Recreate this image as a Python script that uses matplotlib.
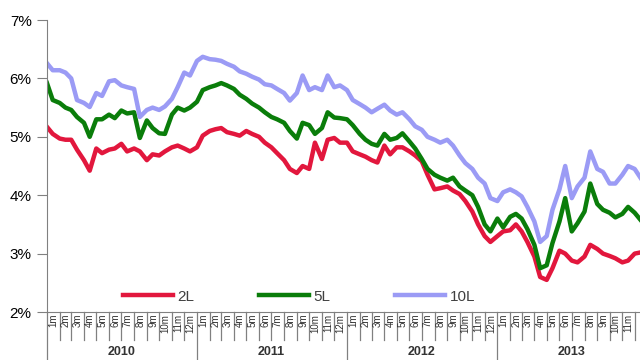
import matplotlib
matplotlib.use("Agg")
import matplotlib.pyplot as plt
import matplotlib.dates as mdates
import matplotlib.transforms as mtransforms
import pandas as pd

plt.rcParams["font.family"] = ["Liberation Sans", "DejaVu Sans"]

# semi-monthly observations, Jan 2010 - Dec 2013
dates = pd.date_range("2010-01-01", periods=96, freq="SMS")

rate_2L = [5.17, 5.05, 4.97, 4.95, 4.95, 4.78, 4.60, 4.42, 4.80, 4.72, 4.78, 4.80,
           4.88, 4.75, 4.80, 4.75, 4.60, 4.70, 4.68, 4.75, 4.82, 4.85, 4.80, 4.75,
           4.82, 5.02, 5.10, 5.13, 5.15, 5.08, 5.05, 5.02, 5.10, 5.05, 5.00, 4.90,
           4.82, 4.72, 4.60, 4.45, 4.38, 4.50, 4.45, 4.90, 4.62, 4.95, 4.98, 4.90,
           4.90, 4.75, 4.70, 4.66, 4.60, 4.56, 4.85, 4.70, 4.82, 4.82, 4.75, 4.68,
           4.58, 4.35, 4.10, 4.12, 4.15, 4.08, 4.02, 3.90, 3.72, 3.50, 3.30, 3.20,
           3.30, 3.38, 3.40, 3.50, 3.38, 3.20, 2.95, 2.60, 2.55, 2.75, 3.05, 3.00,
           2.88, 2.85, 2.95, 3.15, 3.08, 3.00, 2.96, 2.92, 2.85, 2.88, 3.00, 3.02]

rate_5L = [5.92, 5.63, 5.58, 5.50, 5.46, 5.34, 5.24, 5.00, 5.30, 5.30, 5.38, 5.32,
           5.45, 5.40, 5.42, 4.98, 5.28, 5.15, 5.06, 5.05, 5.38, 5.50, 5.45, 5.50,
           5.60, 5.80, 5.85, 5.88, 5.92, 5.88, 5.82, 5.72, 5.65, 5.57, 5.50, 5.42,
           5.34, 5.30, 5.24, 5.10, 4.97, 5.24, 5.20, 5.05, 5.15, 5.42, 5.33, 5.32,
           5.30, 5.20, 5.05, 4.95, 4.88, 4.85, 5.05, 4.95, 4.98, 5.06, 4.92, 4.80,
           4.62, 4.45, 4.35, 4.30, 4.25, 4.30, 4.15, 4.08, 4.00, 3.80, 3.50, 3.38,
           3.60, 3.45, 3.63, 3.68, 3.60, 3.42, 3.15, 2.75, 2.80, 3.18, 3.55, 3.95,
           3.38, 3.52, 3.72, 4.20, 3.85, 3.75, 3.70, 3.62, 3.68, 3.80, 3.70, 3.58]

rate_10L = [6.26, 6.14, 6.14, 6.10, 6.00, 5.63, 5.58, 5.51, 5.75, 5.70, 5.95, 5.97,
            5.88, 5.85, 5.82, 5.34, 5.46, 5.50, 5.46, 5.52, 5.65, 5.85, 6.10, 6.05,
            6.30, 6.37, 6.33, 6.32, 6.30, 6.25, 6.20, 6.12, 6.08, 6.03, 5.98, 5.90,
            5.88, 5.82, 5.75, 5.62, 5.75, 6.05, 5.80, 5.85, 5.80, 6.05, 5.85, 5.88,
            5.80, 5.63, 5.56, 5.50, 5.42, 5.48, 5.55, 5.45, 5.38, 5.42, 5.30, 5.18,
            5.12, 5.00, 4.95, 4.90, 4.95, 4.85, 4.68, 4.55, 4.45, 4.30, 4.20, 3.95,
            3.90, 4.05, 4.10, 4.05, 3.98, 3.80, 3.55, 3.20, 3.30, 3.75, 4.10, 4.50,
            3.95, 4.15, 4.30, 4.75, 4.45, 4.40, 4.20, 4.20, 4.35, 4.50, 4.45, 4.30]

years = [2010, 2011, 2012, 2013]
series = [("2L", rate_2L, "#e2173d"), ("5L", rate_5L, "#0a7d0a"), ("10L", rate_10L, "#9b9bf5")]

fig = plt.figure(figsize=(6.4, 3.6), dpi=100)
ax = fig.add_axes([0.0734, 0.1333, 0.9266, 0.8111])

for name, vals, col in series:
    ax.plot(dates, vals, color=col, lw=3.2, label=name, solid_joinstyle="round")

ax.set_ylim(2, 7)
ax.set_yticks([2, 3, 4, 5, 6, 7])
ax.set_yticklabels([f"{v}%" for v in range(2, 8)], fontsize=11)
ax.set_xlim(pd.Timestamp("2010-01-01"), pd.Timestamp("2013-12-14"))
ax.set_xticks([])

for s in ["top", "right"]:
    ax.spines[s].set_visible(False)
for s in ["left", "bottom"]:
    ax.spines[s].set_color("#808080")
ax.tick_params(axis="y", direction="out", length=7, color="#808080", pad=4)

# month cells and year blocks below the axis
trans = mtransforms.blended_transform_factory(ax.transData, ax.transAxes)
month_starts = pd.date_range("2010-01-01", "2014-01-01", freq="MS")
for d in month_starts:
    x = mdates.date2num(d)
    bottom = -0.165 if d.month == 1 else -0.095
    ax.plot([x, x], [0, bottom], transform=trans, color="#808080", lw=0.9, clip_on=False)
for d in month_starts[:-1]:
    mid = mdates.date2num(d) + 15
    if mid > ax.get_xlim()[1]:
        continue
    ax.text(mid, -0.006, f"{d.month}m", transform=trans, rotation=90, ha="center",
            va="top", fontsize=7, color="#333333")
for y in years:
    mid = mdates.date2num(pd.Timestamp(f"{y}-07-01"))
    ax.text(mid, -0.137, str(y), transform=trans, ha="center", va="center",
            fontsize=9, fontweight="bold", color="#333333")

ax.legend(loc="center", bbox_to_anchor=(0.425, 0.052), ncol=3, frameon=False,
          fontsize=11, handlelength=3.3, columnspacing=4.2, handletextpad=0.3,
          labelcolor="#404040")

fig.savefig("out.png", dpi=100)
